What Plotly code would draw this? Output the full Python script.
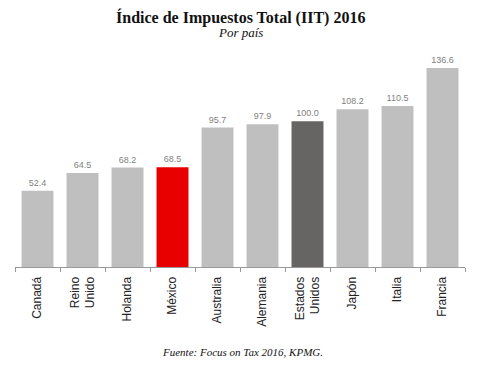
import plotly.graph_objects as go

countries = ["Canadá", "Reino<br>Unido", "Holanda", "México", "Australia",
             "Alemania", "Estados<br>Unidos", "Japón", "Italia", "Francia"]
values = [52.4, 64.5, 68.2, 68.5, 95.7, 97.9, 100.0, 108.2, 110.5, 136.6]
labels = ["52.4", "64.5", "68.2", "68.5", "95.7", "97.9", "100.0", "108.2", "110.5", "136.6"]

colors = ["#BFBFBF"] * len(countries)
colors[3] = "#E80000"
colors[6] = "#676464"

# page body has an 8px margin; compensate so the figure lands in the 480x371 window
OFF = 8
W, H = 480 - OFF, 371 - OFF
L, R, T, B = 15 - OFF, 15, 63 - OFF, 104

fig = go.Figure(go.Bar(
    x=countries, y=values, text=labels, textposition="outside",
    textfont=dict(family="Liberation Sans, Arial, sans-serif", size=9, color="#7F7F7F"),
    marker=dict(color=colors, line=dict(width=0)),
    cliponaxis=False,
))

fig.update_layout(
    width=W, height=H,
    margin=dict(l=L, r=R, t=T, b=B, autoexpand=False),
    paper_bgcolor="white", plot_bgcolor="white",
    bargap=0.29,
    showlegend=False,
    xaxis=dict(
        tickangle=-90, tickson="boundaries", ticks="outside", ticklen=4,
        tickcolor="#999999", showline=True, linecolor="#999999", linewidth=1,
        ticklabelstandoff=4,
        tickfont=dict(family="Liberation Sans, Arial, sans-serif", size=12, color="#222222"),
        showgrid=False, automargin=False,
    ),
    yaxis=dict(range=[0, 140], visible=False, showgrid=False),
)

plot_h = H - T - B


def py(page_y):
    return (H - B - (page_y - OFF)) / plot_h


serif = "Liberation Serif, Times New Roman, serif"
fig.add_annotation(text="<b>Índice de Impuestos Total (IIT) 2016</b>", x=0.5, y=py(18),
                   xref="paper", yref="paper", showarrow=False, xanchor="center", yanchor="middle",
                   font=dict(family=serif, size=16, color="#111111"))
fig.add_annotation(text="<i>Por país</i>", x=0.5, y=py(32), xref="paper", yref="paper",
                   showarrow=False, xanchor="center", yanchor="middle",
                   font=dict(family=serif, size=13, color="#111111"))
fig.add_annotation(text="<i>Fuente: Focus on Tax 2016, KPMG.</i>", x=0.505, y=py(352),
                   xref="paper", yref="paper", showarrow=False, xanchor="center", yanchor="middle",
                   font=dict(family=serif, size=11, color="#111111"))

fig.write_html("out.html")
